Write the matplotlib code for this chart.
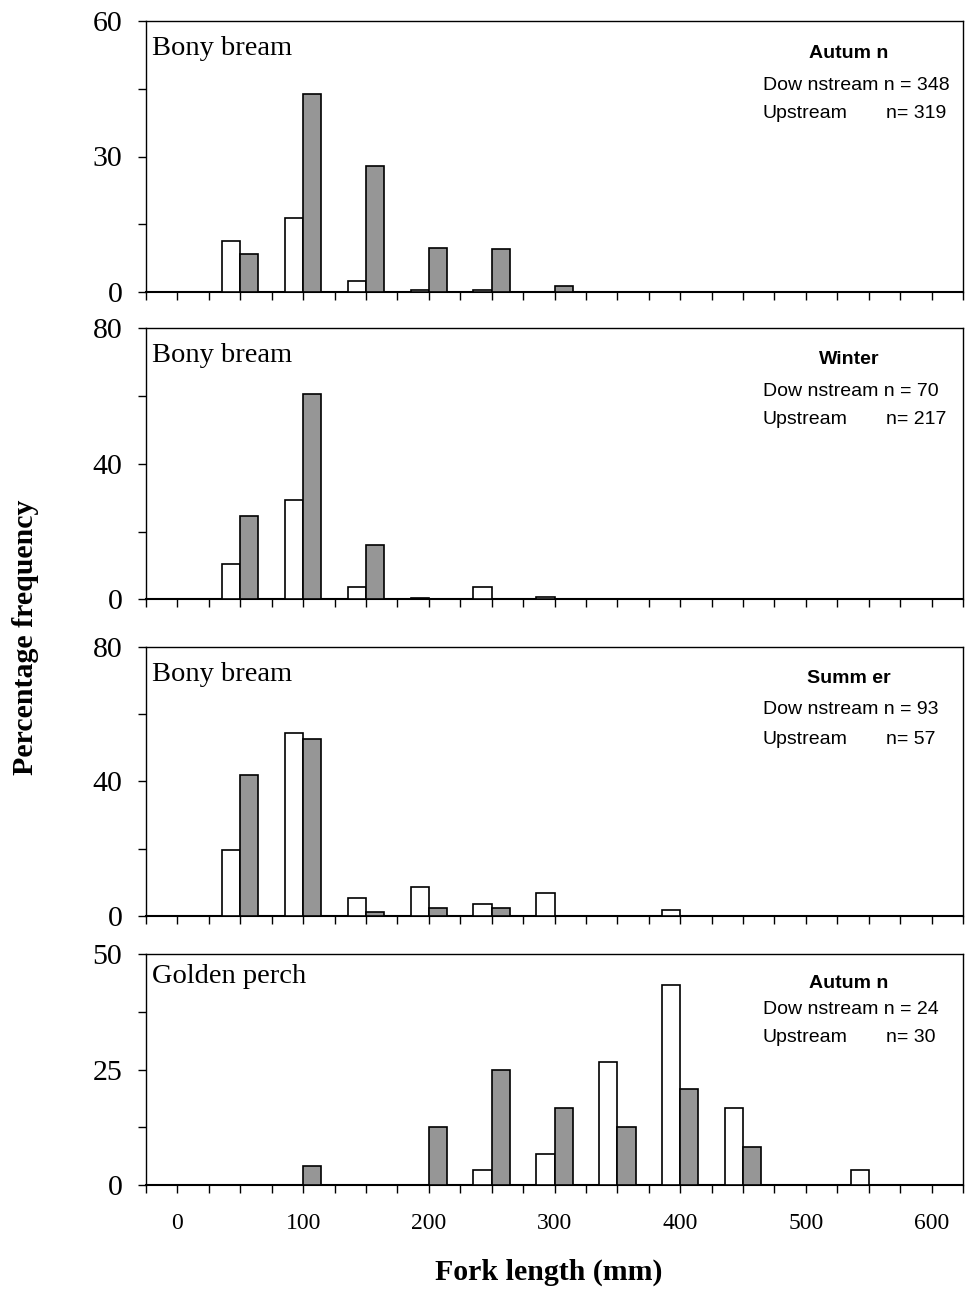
import numpy as np
import matplotlib
matplotlib.use("Agg")
import matplotlib.pyplot as plt

# ---------------- data ----------------
fork_length = [50, 100, 150, 200, 250, 300, 350, 400, 450, 500, 550]

species = ["Bony bream", "Bony bream", "Bony bream", "Golden perch"]
seasons = ["Autum n", "Winter", "Summ er", "Autum n"]
downstream_n = ["348", "70", "93", "24"]
upstream_n = ["319", "217", "57", "30"]

# white (open) bars
white_p1 = [11.2, 16.3, 2.5, 0.5, 0.5, 0, 0, 0, 0, 0, 0]
white_p2 = [10.4, 29.3, 3.6, 0.5, 3.6, 0.6, 0, 0, 0, 0, 0]
white_p3 = [19.5, 54.3, 5.3, 8.6, 3.5, 6.8, 0, 1.8, 0, 0, 0]
white_p4 = [0, 0, 0, 0, 3.3, 6.7, 26.7, 43.3, 16.7, 0, 3.3]

# grey (filled) bars
grey_p1 = [8.5, 43.8, 28.0, 9.8, 9.5, 1.3, 0, 0, 0, 0, 0]
grey_p2 = [24.6, 60.6, 16.1, 0, 0, 0, 0, 0, 0, 0, 0]
grey_p3 = [41.8, 52.7, 1.1, 2.4, 2.4, 0, 0, 0, 0, 0, 0]
grey_p4 = [0, 4.2, 0, 12.5, 25.0, 16.7, 12.5, 20.8, 8.3, 0, 0]

y_max = [60, 80, 80, 50]
y_label_ticks = [[0, 30, 60], [0, 40, 80], [0, 40, 80], [0, 25, 50]]
x_tick_labels = [0, 100, 200, 300, 400, 500, 600]

whites = [white_p1, white_p2, white_p3, white_p4]
greys = [grey_p1, grey_p2, grey_p3, grey_p4]

# ---------------- layout ----------------
W, H = 966, 1293
fig = plt.figure(figsize=(W / 100, H / 100), dpi=100)

def fy(p):
    return 1 - p / H

def fx(p):
    return p / W

# panels: (top px, bottom px)
panel_px = [(21, 292), (328.3, 599.3), (646.7, 916), (954, 1185)]
left_px, right_px = 146, 963

serif = "Liberation Serif"
sans = "Liberation Sans"
bar_w = 14.5
grey_col = "#969696"

axes = []
for i, (top, bot) in enumerate(panel_px):
    ax = fig.add_axes([fx(left_px), fy(bot), fx(right_px - left_px), (bot - top) / H])
    axes.append(ax)
    x = np.array(fork_length, dtype=float)
    wv = np.array(whites[i], dtype=float)
    gv = np.array(greys[i], dtype=float)
    mw = wv > 0
    mg = gv > 0
    ax.bar(x[mw] - bar_w / 2, wv[mw], width=bar_w, color="white",
           edgecolor="black", linewidth=1.2, zorder=3)
    ax.bar(x[mg] + bar_w / 2, gv[mg], width=bar_w, color=grey_col,
           edgecolor="black", linewidth=1.2, zorder=3)

    ax.set_xlim(-25, 625)
    ax.set_ylim(0, y_max[i])
    xt = np.arange(-25, 626, 25)
    ax.set_xticks(xt)
    if i == 3:
        ax.set_xticklabels([str(int(v)) if (v % 100 == 0 and v >= 0) else "" for v in xt],
                           fontfamily=serif, fontsize=17)
    else:
        ax.set_xticklabels([])
    yt = np.linspace(0, y_max[i], 5)
    ax.set_yticks(yt)
    ax.set_yticklabels([str(int(v)) if v in y_label_ticks[i] else "" for v in yt],
                       fontfamily=serif, fontsize=21.5)
    ax.tick_params(axis="x", direction="out", length=6, width=1.0, pad=14)
    ax.tick_params(axis="y", direction="out", length=6, width=1.0, pad=11)
    for s in ax.spines.values():
        s.set_linewidth(1.0)
    ax.spines["bottom"].set_linewidth(1.5)

# panel titles (species)
title_base = [55, 361.7, 680.7, 983.3]
for i in range(4):
    fig.text(fx(152), fy(title_base[i]), species[i], fontfamily=serif, fontsize=20.5,
             va="baseline", ha="left")

# season / n annotations
ann_rows = [(54, 85, 113), (360, 391, 420), (679, 710, 739), (984, 1010, 1038)]
for i in range(4):
    r0, r1, r2 = ann_rows[i]
    fig.text(fx(849), fy(r0), seasons[i], fontfamily=sans, fontsize=14,
             fontweight="bold", ha="center", va="center")
    fig.text(fx(763), fy(r1), "Dow nstream n = " + downstream_n[i], fontfamily=sans,
             fontsize=14, ha="left", va="center")
    fig.text(fx(763), fy(r2), "Upstream", fontfamily=sans, fontsize=14,
             ha="left", va="center")
    fig.text(fx(886), fy(r2), "n= " + upstream_n[i], fontfamily=sans, fontsize=14,
             ha="left", va="center")

# axis labels
fig.text(fx(549), fy(1272), "Fork length (mm)", fontfamily=serif, fontsize=21.5,
         fontweight="bold", ha="center", va="center")
fig.text(fx(26), fy(637), "Percentage frequency", fontfamily=serif, fontsize=21.5,
         fontweight="bold", ha="center", va="center", rotation=90)

fig.savefig("out.png", dpi=100)
